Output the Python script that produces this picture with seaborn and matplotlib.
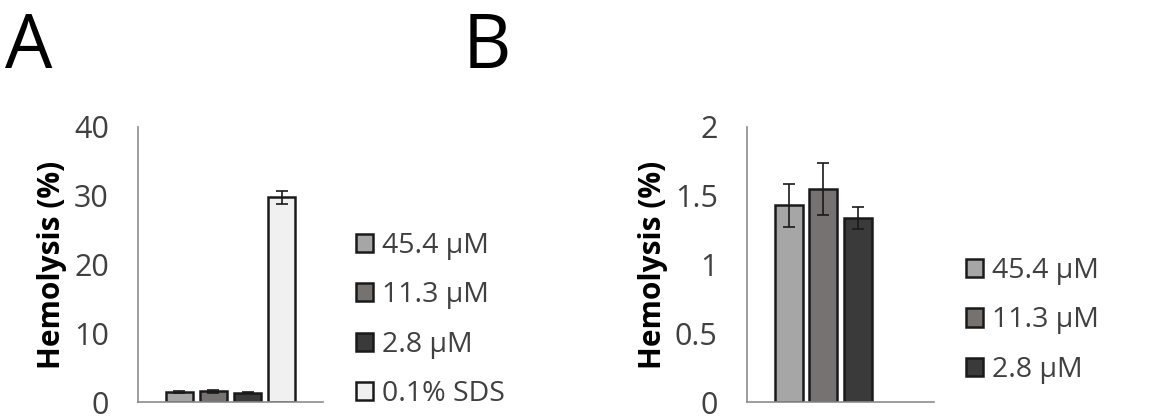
import matplotlib
matplotlib.use("Agg")
import matplotlib.pyplot as plt
import seaborn as sns
import pandas as pd
import numpy as np
from matplotlib.patches import Patch

# ---- data ----
conditions = ["45.4 µM", "11.3 µM", "2.8 µM", "0.1% SDS"]
colors = ["#a6a6a6", "#767270", "#3a3a3a", "#f0f0f0"]
hemolysis_A = [1.43, 1.55, 1.34, 29.8]
err_A = [0.15, 0.19, 0.08, 0.95]
hemolysis_B = [1.43, 1.55, 1.34]
err_B = [0.155, 0.19, 0.08]
yticks_A = [0, 10, 20, 30, 40]
yticks_B = [0, 0.5, 1, 1.5, 2]
ytick_labels_B = ["0", "0.5", "1", "1.5", "2"]

sns.set_theme(style="white")
plt.rcParams["font.family"] = ["Open Sans", "DejaVu Sans"]

fig = plt.figure(figsize=(11.59, 4.16), dpi=100)
axA = fig.add_axes([138/1159, 1-402/416, 185/1159, 275/416])
axB = fig.add_axes([747/1159, 1-402/416, 187/1159, 275/416])

palette = dict(zip(conditions, colors))

def draw(ax, vals, errs, yticks, ylabels, ymax, labels, labx):
    df = pd.DataFrame({"grp": ["g"] * len(vals), "cond": labels, "val": vals})
    sns.barplot(data=df, x="grp", y="val", hue="cond", hue_order=conditions,
                palette=palette, errorbar=None, width=0.8, gap=0.18,
                edgecolor="#1a1a1a", linewidth=1.8, legend=False, ax=ax)
    bars = [p for p in ax.patches if p.get_height() > 0]
    for p, e in zip(bars, errs):
        cx = p.get_x() + p.get_width() / 2
        ax.errorbar(cx, p.get_height(), yerr=e, fmt="none", ecolor="#1a1a1a",
                    elinewidth=1.2, capsize=4, capthick=1.2)
    ax.set_xlim(-0.544, 0.544)
    ax.set_ylim(0, ymax)
    ax.set_yticks(yticks)
    ax.set_yticklabels(ylabels)
    ax.set_xticks([])
    ax.set_xlabel("")
    ax.set_ylabel("Hemolysis (%)", fontsize=21.5, fontweight="bold", color="black")
    ax.yaxis.set_label_coords(labx, 0.5)
    ax.tick_params(axis="y", length=0, pad=21, labelsize=22, labelcolor="#404040")
    for s in ["top", "right"]:
        ax.spines[s].set_visible(False)
    for s in ["left", "bottom"]:
        ax.spines[s].set_color("#8c8c8c")
        ax.spines[s].set_linewidth(1.2)

draw(axA, hemolysis_A, err_A, yticks_A, [str(t) for t in yticks_A], 40, conditions, -0.384)
draw(axB, hemolysis_B, err_B, yticks_B, ytick_labels_B, 2, conditions[:3], -0.422)

def legend(ax, n, x, y):
    handles = [Patch(facecolor=colors[i], edgecolor="#1a1a1a", linewidth=1.8, label=conditions[i]) for i in range(n)]
    leg = fig.legend(handles=handles, loc="center left", bbox_to_anchor=(x, y),
                     frameon=False, fontsize=20.5, handlelength=0.6, handleheight=0.6,
                     handletextpad=0.3, labelspacing=0.75, borderpad=0, borderaxespad=0)
    for t in leg.get_texts():
        t.set_color("#404040")

legend(axA, 4, 356/1159, 1-320/416)
legend(axB, 3, 966/1159, 1-320.5/416)

fig.text(5/1159, 1-68/416, "A", fontsize=54, color="black", ha="left", va="baseline")
fig.text(463/1159, 1-68/416, "B", fontsize=54, color="black", ha="left", va="baseline")

fig.savefig("out.png", dpi=100)
